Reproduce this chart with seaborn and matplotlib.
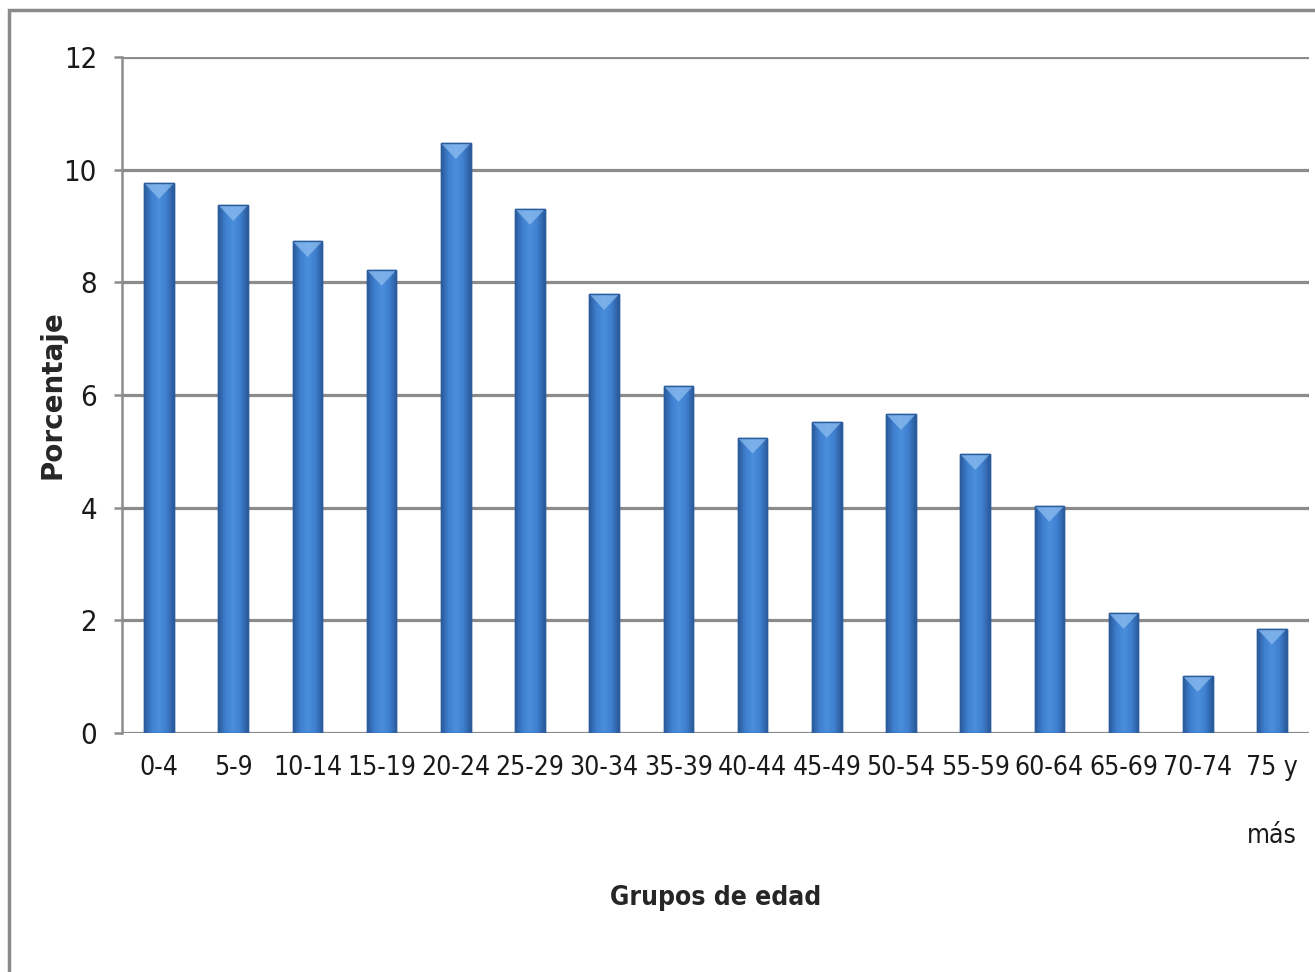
import numpy as np
import matplotlib
matplotlib.use('Agg')
import matplotlib.pyplot as plt
from matplotlib import font_manager
from matplotlib.colors import LinearSegmentedColormap
import seaborn as sns
import pandas as pd

# datos
grupos = ['0-4', '5-9', '10-14', '15-19', '20-24', '25-29', '30-34', '35-39',
          '40-44', '45-49', '50-54', '55-59', '60-64', '65-69', '70-74', '75 y\nmás']
porcentaje = [9.76, 9.37, 8.73, 8.22, 10.47, 9.30, 7.79, 6.16,
              5.24, 5.52, 5.66, 4.95, 4.03, 2.13, 1.01, 1.85]
yticks = [0, 2, 4, 6, 8, 10, 12]

df = pd.DataFrame({'grupo': grupos, 'pct': porcentaje})

sns.set_style('white')
nombres = {f.name for f in font_manager.fontManager.ttflist}
fuente = 'Liberation Sans Narrow' if 'Liberation Sans Narrow' in nombres else 'DejaVu Sans'
plt.rcParams['font.family'] = [fuente, 'DejaVu Sans']
estirar = 'normal' if fuente == 'Liberation Sans Narrow' else 'condensed'

fig = plt.figure(figsize=(13.15, 9.72), dpi=100)
ax = fig.add_axes([122/1315, 1-733/972, (1309-122)/1315, (733-57)/972])

# marco exterior
fig.add_artist(plt.Rectangle((9/1315, -0.1), 1.2, 1-10/972+0.1, transform=fig.transFigure,
                             fill=False, edgecolor='#8a8a8a', lw=2.5))

sns.barplot(data=df, x='grupo', y='pct', color='#3a77c4', width=0.4,
            edgecolor='#2b5c9e', linewidth=1.0, saturation=1, ax=ax, zorder=3)

# degradado tipo excel sobre cada barra
cmap = LinearSegmentedColormap.from_list('barra', ['#2a5a9a', '#3f80cf', '#4a8edc', '#3f80cf', '#2a5a9a'])
grad = np.linspace(0, 1, 64).reshape(1, -1)
bisel = 0.28
for p in list(ax.patches):
    x0, w, h = p.get_x(), p.get_width(), p.get_height()
    im = ax.imshow(grad, cmap=cmap, aspect='auto', extent=(x0, x0+w, 0, h), zorder=4)
    im.set_clip_path(p)
    tri = plt.Polygon([(x0, h), (x0+w, h), (x0+w*0.5, h-bisel)], closed=True,
                      facecolor='#8cbdf0', edgecolor='none', alpha=0.75, zorder=5)
    ax.add_patch(tri)
    ax.add_patch(plt.Rectangle((x0, 0), w, h, fill=False, edgecolor='#2b5c9e', lw=1.0, zorder=6))

ax.set_ylim(0, 12)
ax.set_xlim(-0.5, len(grupos)-0.5)
ax.set_yticks(yticks)
ax.yaxis.grid(True, color='#8c8c8c', lw=2.3)
ax.set_axisbelow(True)
for s in ['top', 'right', 'bottom']:
    ax.spines[s].set_visible(False)
ax.spines['left'].set_color('#8c8c8c')
ax.spines['left'].set_linewidth(1.8)
ax.tick_params(axis='y', left=True, length=6, width=1.8, color='#8c8c8c', pad=12,
               labelsize=21)
ax.tick_params(axis='x', bottom=False, pad=12, labelsize=19)
for t in ax.get_xticklabels() + ax.get_yticklabels():
    t.set_fontstretch(estirar)
    t.set_color('#1a1a1a')
    t.set_linespacing(3.1)

ax.set_xlabel('Grupos de edad', fontsize=19, fontweight='bold', fontstretch=estirar,
              labelpad=26)
ax.set_ylabel('Porcentaje', fontsize=20, fontweight='bold', labelpad=24, family='DejaVu Sans')
ax.yaxis.set_label_coords(-55/1187, 0.5)

fig.savefig('out.png', dpi=100)
